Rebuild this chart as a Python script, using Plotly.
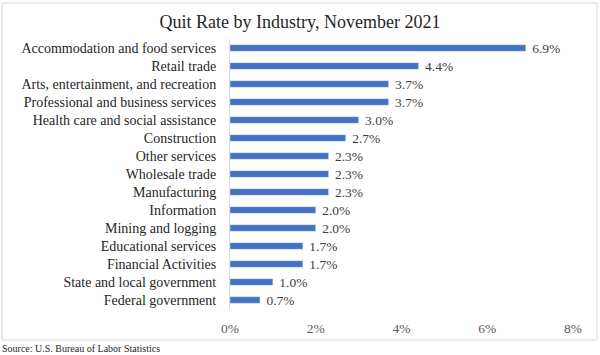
import plotly.graph_objects as go

categories = ["Accommodation and food services", "Retail trade", "Arts, entertainment, and recreation",
              "Professional and business services", "Health care and social assistance", "Construction",
              "Other services", "Wholesale trade", "Manufacturing", "Information", "Mining and logging",
              "Educational services", "Financial Activities", "State and local government", "Federal government"]
values = [6.9, 4.4, 3.7, 3.7, 3.0, 2.7, 2.3, 2.3, 2.3, 2.0, 2.0, 1.7, 1.7, 1.0, 0.7]
tick_vals = [0, 2, 4, 6, 8]
tick_text = ["0%", "2%", "4%", "6%", "8%"]

FONT = "Liberation Serif"
L, R, T, B = 230, 27, 39, 46
W, H = 600, 355
pw, ph = W - L - R, H - T - B

def px_x(px):
    return (px - L) / pw

def px_y(py):
    return (H - B - py) / ph

fig = go.Figure(go.Bar(
    y=categories, x=values, orientation="h",
    marker_color="#4472C4",
    text=[f"\u00a0{v:.1f}%" for v in values], textposition="outside",
    constraintext="none",
    textfont=dict(family=FONT, size=13.5, color="#404040"),
    cliponaxis=False,
))
fig.update_layout(
    width=W, height=H, margin=dict(l=L, r=R, t=T, b=B),
    paper_bgcolor="white", plot_bgcolor="white",
    bargap=0.63, showlegend=False,
    title=dict(text="Quit Rate by Industry, November 2021", x=0.5, xanchor="center",
               y=1 - 22 / H, yanchor="middle",
               font=dict(family=FONT, size=18, color="#262626")),
    xaxis=dict(range=[0, 8], tickvals=tick_vals, ticktext=tick_text, showgrid=False,
               zeroline=False, showline=False, ticks="", ticklabelstandoff=9,
               tickfont=dict(family=FONT, size=13.5, color="#595959")),
    yaxis=dict(autorange="reversed", showgrid=False, showline=True, linecolor="#D9D9D9",
               linewidth=1, ticks="", ticklabelstandoff=10,
               tickfont=dict(family=FONT, size=14, color="#262626")),
    shapes=[dict(type="rect", xref="paper", yref="paper",
                 x0=px_x(2), x1=px_x(597), y0=px_y(340), y1=px_y(3),
                 line=dict(color="#D9D9D9", width=1), layer="below")],
    annotations=[dict(text="Source: U.S. Bureau of Labor Statistics", xref="paper", yref="paper",
                      x=px_x(0), y=px_y(348), xanchor="left", yanchor="middle", showarrow=False,
                      font=dict(family=FONT, size=10, color="#262626"))],
)
fig.write_html("out.html", config={"displayModeBar": False},
               post_script="document.body.style.margin='0';")
